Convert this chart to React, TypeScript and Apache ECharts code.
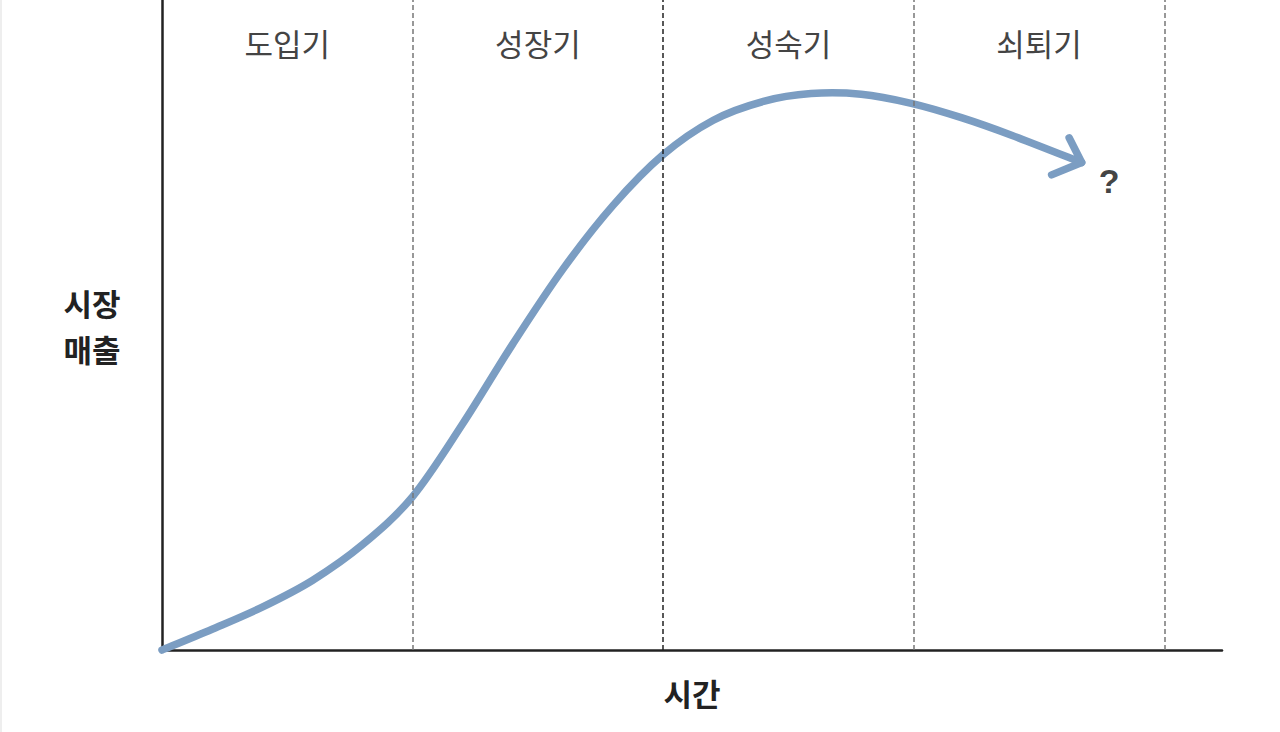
import { useRef, useEffect } from "react";
import * as echarts from "echarts";

// stage names, one per unit on the x axis
const stages = ["도입기", "성장기", "성숙기", "쇠퇴기"];
const stageBounds = [1, 2, 3, 4];

// market sales curve (x: stage units, y: 0-100)
const curveX = [0, 0.2, 0.4, 0.6, 0.8, 1.0, 1.2, 1.4, 1.6, 1.8, 2.0, 2.2, 2.4, 2.59, 2.79, 2.99, 3.19, 3.39, 3.67];
const curveY = [0, 3.2, 6.6, 10.7, 16.2, 23.6, 34.8, 47.1, 58.6, 68.4, 76.2, 81.5, 84.4, 85.6, 85.5, 84.1, 81.9, 79.2, 75.0];

// arrow head at the curve's end
const arrowX = [3.62, 3.67, 3.55];
const arrowY = [78.8, 75.0, 73.1];

const questionPoint = [3.78, 72.1];

const LINE_COLOR = "#7b9dc2";
const FONT = "'Noto Sans CJK KR', 'Noto Sans', sans-serif";

// catmull-rom through the projected points -> cubic bezier path
function splinePath(pts: number[][]) {
  let d = `M${pts[0][0]},${pts[0][1]}`;
  for (let i = 0; i < pts.length - 1; i++) {
    const p0 = pts[i - 1] || pts[i];
    const p1 = pts[i];
    const p2 = pts[i + 1];
    const p3 = pts[i + 2] || p2;
    const c1x = p1[0] + (p2[0] - p0[0]) / 6;
    const c1y = p1[1] + (p2[1] - p0[1]) / 6;
    const c2x = p2[0] - (p3[0] - p1[0]) / 6;
    const c2y = p2[1] - (p3[1] - p1[1]) / 6;
    d += ` C${c1x},${c1y} ${c2x},${c2y} ${p2[0]},${p2[1]}`;
  }
  return d;
}

export default function App() {
  const chartRef = useRef<HTMLDivElement>(null);

  useEffect(() => {
    if (!chartRef.current) return;
    const chart = echarts.init(chartRef.current, null, { renderer: "svg" });

    chart.setOption({
      animation: false,
      backgroundColor: "#fff",
      grid: { left: 160, right: 58, top: 0, bottom: 82 },
      xAxis: {
        type: "value",
        min: 0,
        max: 4.23,
        name: "시간",
        nameLocation: "middle",
        nameGap: 27,
        nameTextStyle: { fontFamily: FONT, fontSize: 31, fontWeight: "bold", color: "#222" },
        axisLine: { lineStyle: { color: "#222", width: 2.5 } },
        axisTick: { show: false },
        axisLabel: { show: false },
        splitLine: { show: false },
      },
      yAxis: {
        type: "value",
        min: 0,
        max: 100,
        name: "시장\n매출",
        nameLocation: "middle",
        nameGap: 70,
        nameRotate: 0,
        nameTextStyle: {
          fontFamily: FONT,
          fontSize: 31,
          fontWeight: "bold",
          color: "#222",
          lineHeight: 46,
          align: "center",
          verticalAlign: "middle",
          padding: [6, 0, 0, 0],
        },
        axisLine: { show: true, lineStyle: { color: "#222", width: 2.5 } },
        axisTick: { show: false },
        axisLabel: { show: false },
        splitLine: { show: false },
      },
      series: [
        {
          type: "custom",
          data: [[0, 0]],
          z: 3,
          renderItem: (_params: any, api: any) => {
            const pts = curveX.map((x, i) => api.coord([x, curveY[i]]));
            return {
              type: "path",
              shape: { pathData: splinePath(pts) },
              style: {
                fill: "none",
                stroke: LINE_COLOR,
                lineWidth: 7.5,
                lineCap: "round",
                lineJoin: "round",
              },
            };
          },
          markLine: {
            silent: true,
            symbol: "none",
            label: { show: false },
            lineStyle: { type: [5, 3], width: 1.5, color: "#777" },
            data: stageBounds.map((b, i) => ({
              xAxis: b,
              lineStyle: { color: i === 1 ? "#222" : "#777" },
            })),
          },
          markArea: {
            silent: true,
            itemStyle: { color: "transparent" },
            label: {
              position: "insideTop",
              distance: 27,
              fontFamily: FONT,
              fontSize: 31,
              color: "#444",
            },
            data: stages.map((name, i) => [
              { name, xAxis: i, yAxis: 0 },
              { xAxis: i + 1, yAxis: 100 },
            ]),
          },
        },
        {
          type: "line",
          data: arrowX.map((x, i) => [x, arrowY[i]]),
          showSymbol: false,
          lineStyle: { color: LINE_COLOR, width: 7.5, cap: "round", join: "round" },
          z: 3,
        },
        {
          type: "scatter",
          data: [questionPoint],
          symbolSize: 0,
          label: {
            show: true,
            formatter: "?",
            position: "inside",
            fontFamily: "'Liberation Sans', Arial, sans-serif",
            fontSize: 34,
            fontWeight: "bold",
            color: "#111",
          },
        },
      ],
    });

    return () => chart.dispose();
  }, []);

  return (
    <div
      ref={chartRef}
      style={{ position: "absolute", left: 0, top: 0, width: 1280, height: 732, borderLeft: "2px solid #eee", boxSizing: "border-box" }}
    />
  );
}
